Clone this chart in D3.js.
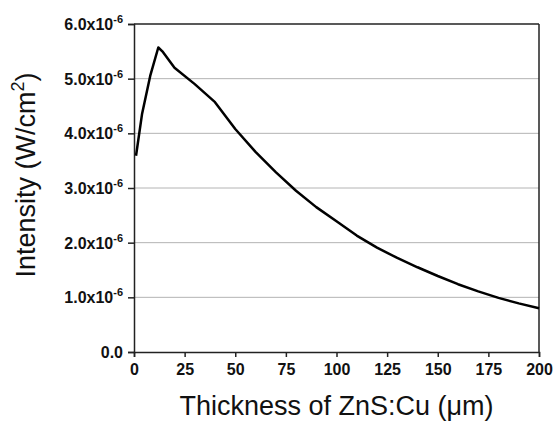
<!DOCTYPE html>
<html>
<head>
<meta charset="utf-8">
<script src="https://cdn.jsdelivr.net/npm/d3@7"></script>
<style>
  body { margin: 0; background: #fff; }
  text { font-family: "Liberation Sans", Arial, sans-serif; }
</style>
</head>
<body>
<svg id="chart" width="555" height="421"></svg>
<script>
// thickness (um) and intensity (W/cm^2, in units of 1e-6)
var thickness = [1, 4, 8, 12, 14, 20, 30, 40, 50, 60, 70, 80, 90, 100, 110, 120, 130, 140, 150, 160, 170, 180, 190, 200];
var intensity = [3.59, 4.36, 5.05, 5.57, 5.50, 5.20, 4.90, 4.57, 4.08, 3.66, 3.29, 2.95, 2.65, 2.39, 2.13, 1.91, 1.72, 1.55, 1.39, 1.24, 1.11, 0.99, 0.89, 0.80];

var xTicks = [0, 25, 50, 75, 100, 125, 150, 175, 200];
var xMinor = [12.5, 37.5, 62.5, 87.5, 112.5, 137.5, 162.5, 187.5];
var yTicks = [0, 1, 2, 3, 4, 5, 6];
var yMinor = [0.5, 1.5, 2.5, 3.5, 4.5, 5.5];

var svg = d3.select("#chart"),
    width = +svg.attr("width"),
    height = +svg.attr("height");

var margin = {top: 24, right: 16, bottom: 69, left: 134};

var x = d3.scaleLinear().domain([0, 200]).range([margin.left, width - margin.right]);
var y = d3.scaleLinear().domain([0, 6]).range([height - margin.bottom, margin.top]);

// gridlines
svg.append("g")
  .selectAll("line")
  .data(yTicks.filter(d => d > 0 && d < 6))
  .enter()
  .append("line")
  .attr("x1", x(0)).attr("x2", x(200))
  .attr("y1", d => y(d)).attr("y2", d => y(d))
  .style("stroke", "#b4b4b4")
  .style("stroke-width", 1);

// frame top + right
svg.append("line")
  .attr("x1", x(0)).attr("x2", x(200))
  .attr("y1", y(6)).attr("y2", y(6))
  .style("stroke", "#222").style("stroke-width", 1.5);
svg.append("line")
  .attr("x1", x(200)).attr("x2", x(200))
  .attr("y1", y(6)).attr("y2", y(0))
  .style("stroke", "#222").style("stroke-width", 1.5);

// x axis
var xAxis = svg.append("g")
  .attr("transform", "translate(0," + y(0) + ")");
xAxis.call(d3.axisBottom(x).tickValues(xMinor).tickSize(3).tickFormat(""));
xAxis.call(d3.axisBottom(x).tickValues(xTicks).tickSize(5).tickFormat(d3.format("d")));
xAxis.selectAll("path").style("stroke", "#222").style("stroke-width", 1.5);
xAxis.selectAll("line").style("stroke", "#222").style("stroke-width", 1.5);
xAxis.selectAll("text")
  .attr("y", 12)
  .attr("dy", "0.71em")
  .style("font-size", "16px")
  .style("font-weight", "bold")
  .style("fill", "#111");

// y axis
var yAxis = svg.append("g")
  .attr("transform", "translate(" + x(0) + ",0)");
yAxis.call(d3.axisLeft(y).tickValues(yMinor).tickSize(3).tickFormat(""));
yAxis.call(d3.axisLeft(y).tickValues(yTicks).tickSize(6).tickFormat(""));
yAxis.selectAll("path").style("stroke", "#222").style("stroke-width", 1.5);
yAxis.selectAll("line").style("stroke", "#222").style("stroke-width", 1.5);

var yLab = svg.append("g")
  .selectAll("text")
  .data(yTicks)
  .enter()
  .append("text")
  .attr("x", x(0) - 11)
  .attr("y", d => y(d) + 6)
  .attr("text-anchor", "end")
  .style("font-size", "16px")
  .style("font-weight", "bold")
  .style("fill", "#111");
yLab.each(function(d) {
  var t = d3.select(this);
  if (d === 0) {
    t.text("0.0");
  } else {
    t.append("tspan").text(d3.format(".1f")(d) + "x10");
    t.append("tspan").attr("dy", -7).style("font-size", "11px").text("-6");
  }
});

// the curve
var pts = thickness.map((t, i) => [t, intensity[i]]);
var line = d3.line()
  .x(d => x(d[0]))
  .y(d => y(d[1]));

svg.append("path")
  .datum(pts)
  .attr("d", line)
  .style("fill", "none")
  .style("stroke", "#000")
  .style("stroke-width", 2.5)
  .style("stroke-linejoin", "round");

// axis titles
svg.append("text")
  .attr("x", (x(0) + x(200)) / 2)
  .attr("y", 415)
  .attr("text-anchor", "middle")
  .style("font-size", "27px")
  .style("fill", "#111")
  .text("Thickness of ZnS:Cu (\u03bcm)");

var yt = svg.append("text")
  .attr("transform", "translate(35,175) rotate(-90)")
  .attr("text-anchor", "middle")
  .style("font-size", "27px")
  .style("fill", "#111");
yt.append("tspan").text("Intensity (W/cm");
yt.append("tspan").attr("dy", -11).style("font-size", "18px").text("2");
yt.append("tspan").attr("dy", 11).text(")");
</script>
</body>
</html>
